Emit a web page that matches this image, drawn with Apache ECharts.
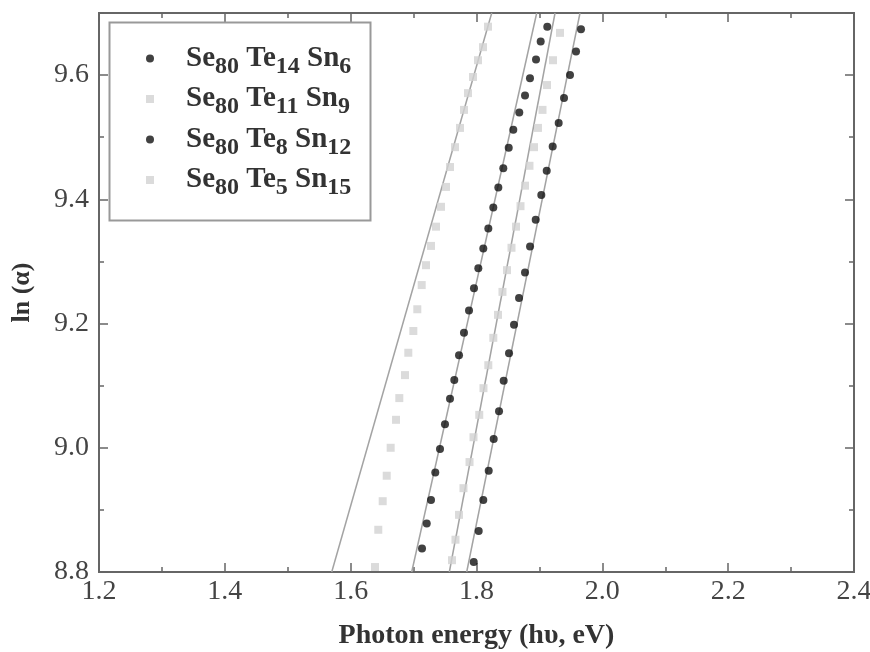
<!DOCTYPE html>
<html>
<head>
<meta charset="utf-8">
<script src="https://cdn.jsdelivr.net/npm/echarts@6/dist/echarts.min.js"></script>
<style>
html, body { margin: 0; padding: 0; background: #fff; }
#container { width: 870px; height: 652px; }
</style>
</head>
<body>
<div id="container"></div>
<script>
// 四组样品, 数据是从图上读出来的
var names = ['Se80Te14Sn6', 'Se80Te11Sn9', 'Se80Te8Sn12', 'Se80Te5Sn15']

var energySn6 = [1.7956, 1.8035, 1.8108, 1.8194, 1.8273, 1.8358, 1.8432, 1.8517, 1.8596, 1.8676, 1.8771,
    1.8851, 1.8941, 1.9030, 1.9116, 1.9211, 1.9306, 1.9391, 1.9486, 1.9582, 1.9661]
var lnSn6 = [8.816, 8.866, 8.916, 8.963, 9.014, 9.059, 9.108, 9.152, 9.198, 9.241, 9.282,
    9.324, 9.367, 9.407, 9.446, 9.485, 9.523, 9.563, 9.600, 9.638, 9.674]

var energySn9 = [1.7611, 1.7666, 1.7722, 1.7793, 1.7889, 1.7952, 1.8044, 1.8111, 1.8188, 1.8267, 1.8342, 1.8413,
    1.8485, 1.8556, 1.8628, 1.8699, 1.8771, 1.8842, 1.8914, 1.8977, 1.9049, 1.9121, 1.9216, 1.9327]
var lnSn9 = [8.819, 8.852, 8.892, 8.935, 8.977, 9.017, 9.053, 9.096, 9.133, 9.177, 9.214, 9.251,
    9.286, 9.322, 9.356, 9.389, 9.422, 9.454, 9.484, 9.515, 9.544, 9.584, 9.624, 9.668]

var energySn12 = [1.7134, 1.7209, 1.7277, 1.7345, 1.7420, 1.7499, 1.7579, 1.7647, 1.7722, 1.7801, 1.7881, 1.7960, 1.8029,
    1.8108, 1.8188, 1.8267, 1.8347, 1.8426, 1.8512, 1.8585, 1.8680, 1.8771, 1.8850, 1.8946, 1.9020, 1.9125]
var lnSn12 = [8.838, 8.878, 8.916, 8.960, 8.998, 9.038, 9.079, 9.109, 9.149, 9.185, 9.221, 9.257, 9.289,
    9.321, 9.353, 9.387, 9.419, 9.450, 9.483, 9.512, 9.540, 9.567, 9.595, 9.625, 9.654, 9.678]

var energySn15 = [1.6387, 1.6439, 1.6509, 1.6573, 1.6636, 1.6721, 1.6773, 1.6864, 1.6916, 1.6996, 1.7059, 1.7129, 1.7197,
    1.7277, 1.7356, 1.7436, 1.7515, 1.7579, 1.7658, 1.7738, 1.7801, 1.7865, 1.7944, 1.8024, 1.8103, 1.8183]
var lnSn15 = [8.808, 8.868, 8.914, 8.955, 9.000, 9.045, 9.080, 9.117, 9.153, 9.188, 9.223, 9.262, 9.294,
    9.325, 9.356, 9.388, 9.420, 9.452, 9.484, 9.515, 9.544, 9.571, 9.597, 9.624, 9.645, 9.678]

// 拟合直线, 两个端点
var fitY = [8.8, 9.7]
var fitSn6 = [1.7844, 1.9645]
var fitSn9 = [1.7568, 1.9248]
var fitSn12 = [1.6970, 1.8957]
var fitSn15 = [1.5699, 1.8242]

var xTicks = { min: 1.2, max: 2.4, interval: 0.2 }
var yTicks = { min: 8.8, max: 9.7, interval: 0.2 }

var zip = function (xs, ys) {
    var out = []
    for (var i = 0; i < xs.length; i++) {
        out.push([xs[i], ys[i]])
    }
    return out
}

var serif = 'Liberation Serif'
var axisColor = '#666'

// 图例里的下标用 rich text 做
var legendText = {
    'Se80Te14Sn6': '{g| }{m|Se}{s|80}{m| Te}{s|14}{m| Sn}{s|6}',
    'Se80Te11Sn9': '{g| }{m|Se}{s|80}{m| Te}{s|11}{m| Sn}{s|9}',
    'Se80Te8Sn12': '{g| }{m|Se}{s|80}{m| Te}{s|8}{m| Sn}{s|12}',
    'Se80Te5Sn15': '{g| }{m|Se}{s|80}{m| Te}{s|5}{m| Sn}{s|15}',
}
var legendIcons = ['circle', 'rect', 'circle', 'rect']

var pointSeries = function (name, xs, ys, symbol, color, size) {
    return {
        name: name,
        type: 'scatter',
        symbol: symbol,
        symbolSize: size,
        itemStyle: { color: color },
        data: zip(xs, ys),
        z: 3,
    }
}

var fitSeries = function (xs) {
    return {
        type: 'line',
        symbol: 'none',
        silent: true,
        lineStyle: { color: '#a3a3a3', width: 1.5 },
        data: zip(xs, fitY),
        z: 2,
    }
}

var xAxisBase = function (pos, showLabel) {
    return {
        type: 'value',
        position: pos,
        min: xTicks.min,
        max: xTicks.max,
        interval: xTicks.interval,
        axisLine: { show: true, onZero: false, lineStyle: { color: axisColor, width: 2 } },
        axisTick: { show: true, inside: true, length: 9, lineStyle: { color: axisColor, width: 1.5 } },
        minorTick: { show: true, splitNumber: 2, length: 5, lineStyle: { color: axisColor, width: 1.5 } },
        splitLine: { show: false },
        axisLabel: {
            show: showLabel,
            formatter: function (v) { return v.toFixed(1) },
            fontFamily: serif,
            fontSize: 28,
            color: '#444',
            margin: 6,
        },
    }
}

var yAxisBase = function (pos, step, len, showLabel) {
    return {
        type: 'value',
        position: pos,
        min: yTicks.min,
        max: yTicks.max,
        interval: step,
        axisLine: { show: true, onZero: false, lineStyle: { color: axisColor, width: 2 } },
        axisTick: { show: true, inside: true, length: len, lineStyle: { color: axisColor, width: 1.5 } },
        splitLine: { show: false },
        axisLabel: {
            show: showLabel,
            showMaxLabel: false,
            formatter: function (v) { return v.toFixed(1) },
            fontFamily: serif,
            fontSize: 28,
            color: '#444',
            margin: 10,
        },
    }
}

var chartInit = function () {
    var myChart = echarts.init(document.getElementById('container'))

    var xBottom = xAxisBase('bottom', true)
    xBottom.name = 'Photon energy (hυ, eV)'
    xBottom.nameLocation = 'middle'
    xBottom.nameGap = 50
    xBottom.nameTextStyle = { fontFamily: serif, fontSize: 28, fontWeight: 'bold', color: '#333' }

    var yLeft = yAxisBase('left', yTicks.interval, 9, true)
    yLeft.name = 'ln (α)'
    yLeft.nameLocation = 'middle'
    yLeft.nameGap = 64
    yLeft.nameRotate = 90
    yLeft.nameTextStyle = { fontFamily: serif, fontSize: 26, fontWeight: 'bold', color: '#333' }

    var legendData = []
    for (var i = 0; i < names.length; i++) {
        legendData.push({ name: names[i], icon: legendIcons[i] })
    }

    var option = {
        animation: false,
        backgroundColor: '#fff',
        grid: { left: 99, right: 16, top: 13, bottom: 80, outerBoundsMode: 'none' },
        xAxis: [xBottom, xAxisBase('top', false)],
        yAxis: [
            yLeft,
            yAxisBase('right', yTicks.interval, 9, false),
            yAxisBase('left', 0.1, 5, false),
            yAxisBase('right', 0.1, 5, false),
        ],
        legend: {
            data: legendData,
            orient: 'vertical',
            left: 146,
            top: 44,
            padding: 0,
            itemGap: 6,
            itemWidth: 8,
            itemHeight: 8,
            formatter: function (name) { return legendText[name] },
            textStyle: {
                color: '#333',
                rich: {
                    g: { width: 27, fontSize: 12 },
                    m: { fontFamily: serif, fontSize: 29, fontWeight: 'bold', color: '#333', lineHeight: 40 },
                    s: { fontFamily: serif, fontSize: 24, fontWeight: 'bold', color: '#333', lineHeight: 10, verticalAlign: 'bottom' },
                },
            },
        },
        graphic: [{
            type: 'rect',
            left: 107,
            top: 20,
            shape: { width: 261, height: 198 },
            style: { fill: 'none', stroke: '#999', lineWidth: 2 },
            silent: true,
            z: 10,
        }],
        series: [
            fitSeries(fitSn6),
            fitSeries(fitSn9),
            fitSeries(fitSn12),
            fitSeries(fitSn15),
            pointSeries(names[0], energySn6, lnSn6, 'circle', '#111', 8),
            pointSeries(names[1], energySn9, lnSn9, 'rect', '#d2d2d2', 8),
            pointSeries(names[2], energySn12, lnSn12, 'circle', '#111', 8),
            pointSeries(names[3], energySn15, lnSn15, 'rect', '#d2d2d2', 8),
        ],
    }

    myChart.setOption(option, true)
}

chartInit()
</script>
</body>
</html>
